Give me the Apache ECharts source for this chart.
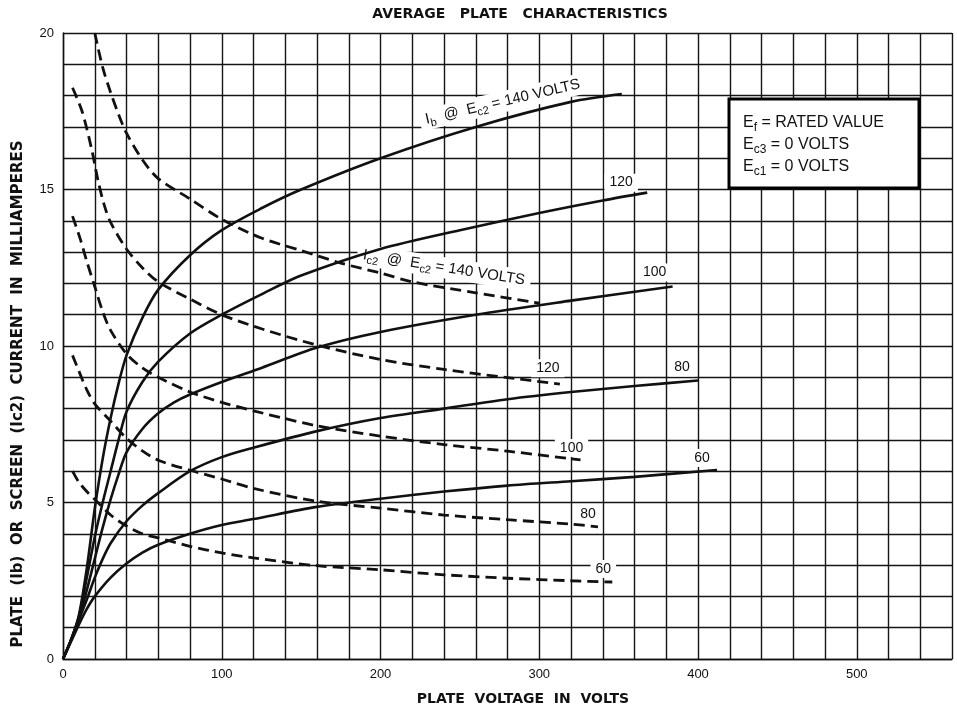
<!DOCTYPE html>
<html>
<head>
<meta charset="utf-8">
<script src="https://cdn.jsdelivr.net/npm/echarts/dist/echarts.min.js"></script>
<style>
  html, body { margin: 0; padding: 0; background: #fff; }
  #chart { width: 957px; height: 709px; }
</style>
</head>
<body>
<div id="chart"></div>
<script>
// Plate voltage (V) against plate current Ib (solid) and screen current Ic2 (dashed), mA.
// Each curve is one screen-grid voltage Ec2.

const xTickLabels = [0, 100, 200, 300, 400, 500];
const yTickLabels = [0, 5, 10, 15, 20];

// Plate current Ib, [plate volts, mA]
const ib140 = [[0,0],[5,0.6],[10,1.4],[15,2.9],[20,4.8],[25,6.4],[30,7.7],[35,8.8],[40,9.7],[50,10.9],[60,11.8],[80,12.9],[100,13.7],[125,14.4],[150,15.0],[200,16.0],[260,17.0],[320,17.8],[352,18.05]];
const ib120 = [[0,0],[5,0.6],[10,1.35],[15,2.6],[20,3.9],[25,5.0],[30,6.0],[35,7.0],[40,7.9],[50,8.85],[60,9.5],[80,10.4],[100,11.0],[125,11.65],[150,12.25],[200,13.1],[250,13.7],[300,14.25],[340,14.65],[368,14.9]];
const ib100 = [[0,0],[5,0.6],[10,1.3],[15,2.2],[20,3.2],[25,4.2],[30,5.1],[35,5.9],[40,6.6],[50,7.35],[60,7.85],[70,8.2],[80,8.45],[100,8.85],[125,9.3],[160,9.95],[200,10.45],[260,11.0],[320,11.45],[384,11.9]];
const ib80  = [[0,0],[5,0.6],[10,1.25],[15,1.9],[20,2.6],[25,3.2],[30,3.7],[40,4.4],[50,4.9],[60,5.3],[80,6.0],[100,6.45],[120,6.75],[160,7.28],[200,7.7],[240,8.0],[280,8.3],[320,8.53],[360,8.72],[400,8.9]];
const ib60  = [[0,0],[5,0.55],[10,1.1],[15,1.6],[20,2.0],[30,2.6],[40,3.05],[50,3.4],[60,3.65],[80,4.0],[100,4.28],[120,4.47],[160,4.86],[200,5.12],[240,5.35],[280,5.54],[320,5.68],[360,5.82],[412,6.04]];

// Screen current Ic2, [plate volts, mA]
const ic140 = [[20,20.0],[25,18.9],[30,18.1],[35,17.4],[40,16.8],[50,15.95],[60,15.35],[80,14.7],[100,14.05],[125,13.45],[150,13.05],[175,12.65],[200,12.33],[220,12.05],[260,11.7],[300,11.37]];
const ic120 = [[6,18.25],[12,17.5],[18,16.3],[22,15.3],[26,14.5],[30,13.95],[40,13.1],[50,12.5],[60,12.05],[80,11.5],[100,11.0],[125,10.55],[160,10.03],[200,9.57],[240,9.25],[280,8.99],[313,8.78]];
const ic100 = [[6,14.15],[11,13.4],[15,12.7],[20,11.9],[25,11.1],[30,10.5],[40,9.75],[50,9.3],[60,9.0],[80,8.53],[100,8.2],[120,7.93],[140,7.68],[160,7.45],[200,7.12],[240,6.85],[280,6.64],[326,6.36]];
const ic80  = [[6,9.7],[10,9.2],[15,8.6],[20,8.15],[30,7.6],[40,7.05],[50,6.65],[60,6.35],[80,6.03],[100,5.75],[120,5.45],[160,5.04],[200,4.82],[240,4.6],[280,4.45],[320,4.31],[337,4.22]];
const ic60  = [[6,6.0],[10,5.65],[15,5.35],[20,5.1],[30,4.6],[40,4.25],[50,4.0],[60,3.87],[80,3.6],[100,3.39],[120,3.23],[160,2.98],[200,2.85],[240,2.69],[280,2.58],[320,2.5],[346,2.46]];

const plateCurves = [ib140, ib120, ib100, ib80, ib60];
const screenCurves = [ic140, ic120, ic100, ic80, ic60];
const ec2Names = ['140', '120', '100', '80', '60'];

const INK = '#111';
const FONT = 'Liberation Sans';
const BOLD = 'DejaVu Sans';

const chart = echarts.init(document.getElementById('chart'), null, { renderer: 'canvas' });

function solid(data) {
  return { type: 'line', data, smooth: 0.3, symbol: 'none', z: 3,
           lineStyle: { color: INK, width: 2.6 }, animation: false };
}
function dashed(data) {
  return { type: 'line', data, smooth: 0.3, symbol: 'none', z: 3,
           lineStyle: { color: INK, width: 2.8, type: [11, 6] }, animation: false };
}

chart.setOption({
  animation: false,
  backgroundColor: '#fff',
  grid: { left: 63, right: 5, top: 33, bottom: 50, containLabel: false },
  xAxis: {
    type: 'value', min: 0, max: 560, interval: 20,
    axisLine: { show: true, lineStyle: { color: INK, width: 1.4 } },
    axisTick: { show: false },
    splitLine: { show: true, lineStyle: { color: '#151515', width: 1.4 } },
    axisLabel: {
      margin: 9, color: INK, fontFamily: FONT, fontSize: 13,
      formatter: v => (xTickLabels.includes(v) ? String(v) : '')
    }
  },
  yAxis: {
    type: 'value', min: 0, max: 20, interval: 1,
    axisLine: { show: true, lineStyle: { color: INK, width: 1.4 } },
    axisTick: { show: false },
    splitLine: { show: true, lineStyle: { color: '#151515', width: 1.4 } },
    axisLabel: {
      margin: 9, color: INK, fontFamily: FONT, fontSize: 13,
      formatter: v => (yTickLabels.includes(v) ? String(v) : '')
    }
  },
  series: [...plateCurves.map(solid), ...screenCurves.map(dashed)]
});

// Text placed against the value scales
const toPx = (pt) => chart.convertToPixel({ gridIndex: 0 }, pt);
const subRich = {
  sub: { fontFamily: FONT, fontSize: 11, lineHeight: 11, verticalAlign: 'bottom', fill: INK }
};

const graphics = [];

// Curve names at the end of each trace (pixel offsets from the last point)
const plateLabelShift = [[0, 0], [-26, -10], [-18, -14], [-16, -13], [-15, -12]];
const screenLabelShift = [[0, 0], [-12, -16], [-9, -12], [-10, -13], [-9, -13]];
for (let k = 1; k < 5; k++) {
  const a = plateCurves[k][plateCurves[k].length - 1];
  const p = toPx(a);
  graphics.push({
    type: 'text', z: 1, x: p[0] + plateLabelShift[k][0], y: p[1] + plateLabelShift[k][1],
    style: { text: ec2Names[k], fontFamily: FONT, fontSize: 14, fill: INK, align: 'center',
             verticalAlign: 'middle', backgroundColor: '#fff', padding: [2, 5] }
  });
  const b = screenCurves[k][screenCurves[k].length - 1];
  const q = toPx(b);
  graphics.push({
    type: 'text', z: 1, x: q[0] + screenLabelShift[k][0], y: q[1] + screenLabelShift[k][1],
    style: { text: ec2Names[k], fontFamily: FONT, fontSize: 14, fill: INK, align: 'center',
             verticalAlign: 'middle', backgroundColor: '#fff', padding: [2, 5] }
  });
}

// Slanted captions for the 140 V pair
const ibCap = toPx([277, 17.8]);
graphics.push({
  type: 'text', z: 1, x: ibCap[0], y: ibCap[1], rotation: 13 * Math.PI / 180,
  style: {
    text: 'I{sub|b}  \u0040  E{sub|c2} = 140 VOLTS',
    rich: subRich, fontFamily: FONT, fontSize: 15, lineHeight: 21, fill: INK,
    align: 'center', verticalAlign: 'middle', backgroundColor: '#fff', padding: [0, 6]
  }
});
const icCap = toPx([240, 12.5]);
graphics.push({
  type: 'text', z: 1, x: icCap[0], y: icCap[1], rotation: -9 * Math.PI / 180,
  style: {
    text: 'I{sub|c2}  \u0040  E{sub|c2} = 140 VOLTS',
    rich: subRich, fontFamily: FONT, fontSize: 15, lineHeight: 21, fill: INK,
    align: 'center', verticalAlign: 'middle', backgroundColor: '#fff', padding: [0, 6]
  }
});

// Operating conditions box
graphics.push({
  type: 'rect', z: 1, shape: { x: 729, y: 99, width: 190, height: 89 },
  style: { fill: '#fff', stroke: '#000', lineWidth: 3 }
});
const boxLines = ['E{sub|f} = RATED VALUE', 'E{sub|c3} = 0 VOLTS', 'E{sub|c1} = 0 VOLTS'];
boxLines.forEach((t, i) => {
  graphics.push({
    type: 'text', z: 1, x: 743, y: 123 + i * 22,
    style: { text: t, rich: { sub: { fontFamily: FONT, fontSize: 12, lineHeight: 11, verticalAlign: 'bottom', fill: INK } },
             fontFamily: FONT, fontSize: 16, lineHeight: 21, fill: INK, align: 'left', verticalAlign: 'middle' }
  });
});

// Title and axis names
graphics.push({
  type: 'text', z: 1, x: 520, y: 14,
  style: { text: 'AVERAGE   PLATE   CHARACTERISTICS', fontFamily: BOLD, fontWeight: 'bold',
           fontSize: 14, fill: INK, align: 'center', verticalAlign: 'middle' }
});
graphics.push({
  type: 'text', z: 1, x: 523, y: 699,
  style: { text: 'PLATE  VOLTAGE  IN  VOLTS', fontFamily: BOLD, fontWeight: 'bold',
           fontSize: 14, fill: INK, align: 'center', verticalAlign: 'middle' }
});
graphics.push({
  type: 'text', z: 1, x: 18, y: 394, rotation: Math.PI / 2,
  style: { text: 'PLATE  (Ib)  OR  SCREEN  (Ic2)  CURRENT  IN  MILLIAMPERES', fontFamily: BOLD, fontWeight: 'bold',
           fontSize: 15, fill: INK, align: 'center', verticalAlign: 'middle' }
});

chart.setOption({ graphic: { elements: graphics } });
</script>
</body>
</html>
